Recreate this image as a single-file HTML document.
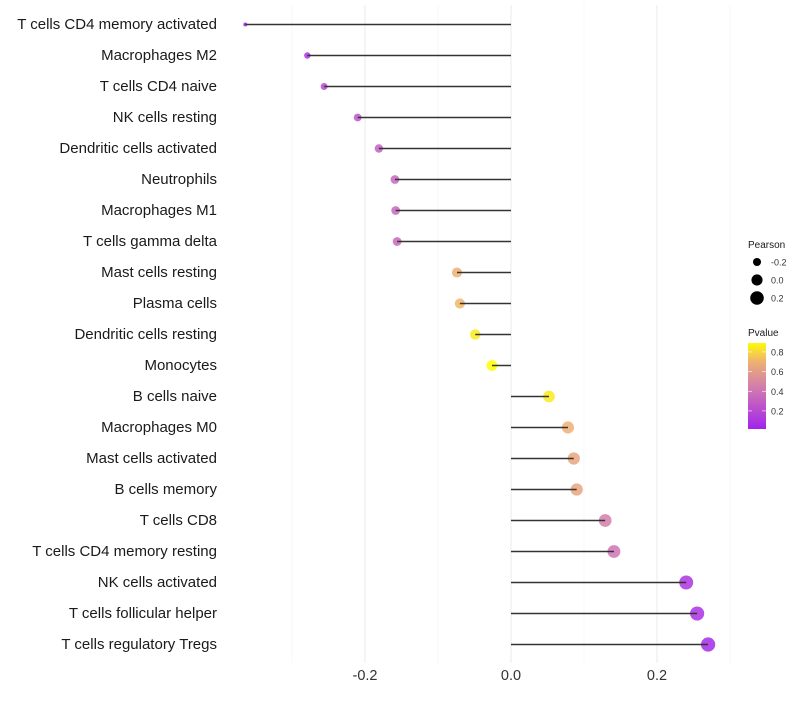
<!DOCTYPE html>
<html><head><meta charset="utf-8"><style>
body{margin:0;background:#fff;font-family:"Liberation Sans",sans-serif}
</style></head><body>
<svg id="chart" width="800" height="700" xmlns="http://www.w3.org/2000/svg"></svg>
<script>
const categories=["T cells CD4 memory activated","Macrophages M2","T cells CD4 naive","NK cells resting","Dendritic cells activated","Neutrophils","Macrophages M1","T cells gamma delta","Mast cells resting","Plasma cells","Dendritic cells resting","Monocytes","B cells naive","Macrophages M0","Mast cells activated","B cells memory","T cells CD8","T cells CD4 memory resting","NK cells activated","T cells follicular helper","T cells regulatory  Tregs"];
const pearson=[-0.364,-0.279,-0.256,-0.210,-0.181,-0.159,-0.158,-0.156,-0.074,-0.070,-0.049,-0.026,0.052,0.078,0.086,0.090,0.129,0.141,0.240,0.255,0.270];
const pvalues=[0.05,0.1,0.2,0.25,0.3,0.35,0.35,0.35,0.7,0.72,0.85,0.9,0.85,0.7,0.65,0.65,0.45,0.4,0.1,0.08,0.05];
const xTicks=[-0.2,0.0,0.2];
const xTickLabels=["-0.2","0.0","0.2"];
const xMinor=[-0.3,-0.1,0.1,0.3];
const sizeLegend=[-0.2,0.0,0.2];
const colorLegend=[0.2,0.4,0.6,0.8];

const NS="http://www.w3.org/2000/svg";
const svg=document.getElementById('chart');
const xs=v=>511+v*730;
const ys=i=>24+i*31;
const rs=v=>Math.sqrt(Math.max(1.5,31+74*v));
const stops=[[0,[160,32,240]],[0.4,[206,116,180]],[0.7,[238,176,116]],[0.9,[255,255,0]]];
function col(p){
  if(p<=stops[0][0])return 'rgb('+stops[0][1]+')';
  for(let k=1;k<stops.length;k++){if(p<=stops[k][0]){const t=(p-stops[k-1][0])/(stops[k][0]-stops[k-1][0]);const a=stops[k-1][1],b=stops[k][1];return 'rgb('+a.map((c,j)=>Math.round(c+(b[j]-c)*t)).join(',')+')';}}
  return 'rgb(255,255,0)';
}
function el(t,a,txt){const e=document.createElementNS(NS,t);for(const k in a)e.setAttribute(k,a[k]);if(txt!==undefined)e.textContent=txt;svg.appendChild(e);return e;}
xMinor.forEach(v=>{const g=el('line',{x1:xs(v),x2:xs(v),y1:5,y2:663,stroke:'#f2f2f2','stroke-width':0.6});

});
xTicks.forEach((v,i)=>{const g=el('line',{x1:xs(v),x2:xs(v),y1:5,y2:663,stroke:'#ebebeb','stroke-width':1});


const t=el('text',{x:xs(v),y:680,'text-anchor':'middle','font-size':14.5,fill:'#333'},xTickLabels[i]);

});
categories.forEach((c,i)=>{const y=ys(i);
const t=el('text',{x:217,y:y+5,'text-anchor':'end','font-size':15,fill:'#1a1a1a'},c);


const d=el('circle',{cx:xs(pearson[i]),cy:y+0.5,r:rs(pearson[i]),fill:col(pvalues[i]),'fill-opacity':0.85});


const l=el('line',{x1:xs(0),x2:xs(pearson[i]),y1:y+0.5,y2:y+0.5,stroke:'#333','stroke-width':1.4});

});
let t=el('text',{x:748,y:248,'font-size':10,fill:'#1a1a1a'},'Pearson');


sizeLegend.forEach((v,i)=>{const y=262+i*18;
const c=el('circle',{cx:757,cy:y,r:rs(v),fill:'#000'});


const tt=el('text',{x:771,y:y+3.5,'font-size':9,fill:'#333'},v.toFixed(1));

});
t=el('text',{x:748,y:336,'font-size':10,fill:'#1a1a1a'},'Pvalue');


const defs=el('defs',{});const lg=document.createElementNS(NS,'linearGradient');lg.setAttribute('id','pg');lg.setAttribute('x1','0');lg.setAttribute('y1','1');lg.setAttribute('x2','0');lg.setAttribute('y2','0');defs.appendChild(lg);
const pmin=0.016,pmax=0.89;
for(let k=0;k<=10;k++){const p=pmin+(pmax-pmin)*k/10;const s=document.createElementNS(NS,'stop');s.setAttribute('offset',k/10);s.setAttribute('stop-color',col(p));lg.appendChild(s);}
const bar=el('rect',{x:748,y:343,width:18,height:86,fill:'url(#pg)'});


colorLegend.forEach(p=>{const y=429-(p-pmin)*98.3;
const tk=el('line',{x1:748,x2:752,y1:y,y2:y,stroke:'#fff','stroke-width':0.6});
const tk2=el('line',{x1:762,x2:766,y1:y,y2:y,stroke:'#fff','stroke-width':0.6});
const tt=el('text',{x:771,y:y+3.5,'font-size':9,fill:'#333'},p.toFixed(1));

});
</script>
</body></html>
